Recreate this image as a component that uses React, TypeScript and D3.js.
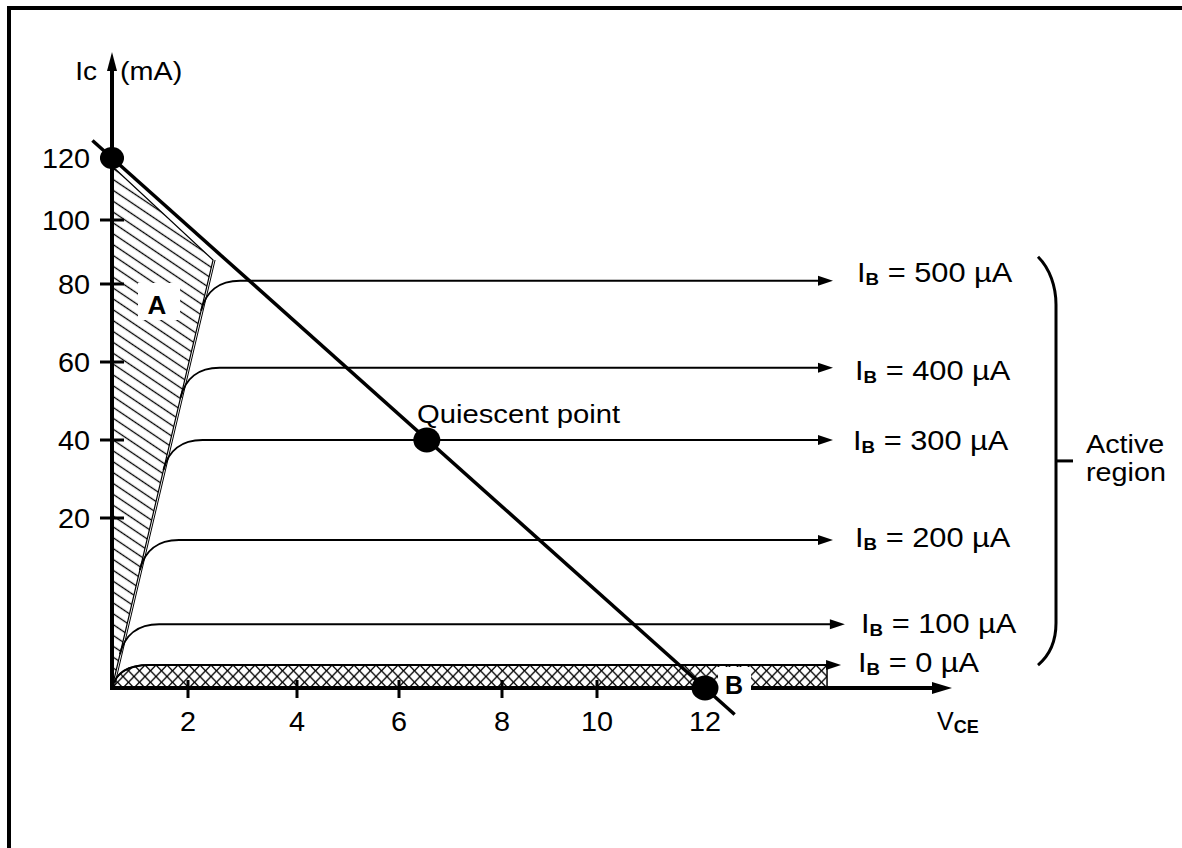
import React from 'react';
import * as d3 from 'd3';

// transistor output characteristics (schematic, non-uniform axes)
const vceTicks = [2, 4, 6, 8, 10, 12];
const icTicks = [20, 40, 60, 80, 100, 120];
const ibValues = [500, 400, 300, 200, 100, 0];
const icLevels = [81, 58.5, 40, 17.4, 7.5, 2.7];
const arrowEndVce = [14.37, 14.37, 14.37, 14.37, 14.59, 14.52];
const loadLine: [number, number][] = [[0, 120], [12, 0]];
const qPoint: [number, number] = [6.54, 40];
const satRegion: [number, number][] = [[0, 117.4], [2.46, 87.5], [0, 0]];
const satLine: [number, number][] = [[0, 0], [2.46, 87.5]];
const cutoffEndVce = 14.26;

const FONT = '"Liberation Sans", Arial, sans-serif';

const x = d3.scaleLinear()
  .domain([0, 2, 4, 6, 8, 10, 12])
  .range([112, 188, 297, 399, 502, 597, 705]);
const y = d3.scaleLinear()
  .domain([0, 20, 40, 60, 80, 100, 120])
  .range([688, 518, 440, 362, 284, 220, 158]);

// x position of the saturation boundary at a given pixel y
const satX = (py: number) => {
  const [a, b] = satLine;
  const x0 = x(a[0]), y0 = y(a[1]), x1 = x(b[0]), y1 = y(b[1]);
  return x0 + ((y0 - py) / (y0 - y1)) * (x1 - x0);
};

const kneePath = (level: number, endVce: number) => {
  const yL = y(level);
  const d = Math.min(30, y(0) - yL);
  const h = 32;
  const sx = satX(yL + d), sy = yL + d;
  const cx = satX(yL);
  const p = d3.path();
  p.moveTo(sx, sy);
  p.bezierCurveTo(sx + (cx - sx) * 0.65, sy - d * 0.65, cx + h * 0.35, yL, cx + h, yL);
  p.lineTo(x(endVce), yL);
  return p.toString();
};

const Txt = ({ px, py, fs, sx = 1, anchor = 'start', weight = 'normal', children }: any) => (
  <text
    transform={`translate(${px},${py}) scale(${sx},1)`}
    fontSize={fs}
    fontFamily={FONT}
    textAnchor={anchor}
    fontWeight={weight}
    fill="#000"
  >
    {children}
  </text>
);

export default function App() {
  const [l0, l1] = loadLine;
  const lx0 = x(l0[0]), ly0 = y(l0[1]), lx1 = x(l1[0]), ly1 = y(l1[1]);
  const ext = (t: number) => [lx0 + (lx1 - lx0) * t, ly0 + (ly1 - ly0) * t];
  const [ex0, ey0] = ext(-0.033);
  const [ex1, ey1] = ext(1.05);

  const satPoly = satRegion.map(([v, i]) => `${x(v)},${y(i)}`).join(' ');

  const lastIdx = ibValues.length - 1;
  const cutoffPath =
    kneePath(icLevels[lastIdx], cutoffEndVce) +
    `L${x(cutoffEndVce)},${y(0)}L${x(0)},${y(0)}Z`;

  const braceTop = y(icLevels[0]) - 24;
  const braceBot = y(icLevels[lastIdx]);
  const braceMid = (braceTop + braceBot) / 2;
  const bx = 1056;

  const labelDy = [-9, 2, 0, -3, -1, -3];
  const labelX = [857, 855, 853, 855, 861, 858];

  return (
    <svg width={1182} height={848} style={{ position: 'absolute', left: 0, top: 0, background: '#fff' }}>
      <defs>
        <pattern id="hatchA" patternUnits="userSpaceOnUse" width={12} height={9} patternTransform="rotate(34)">
          <line x1={0} y1={4.5} x2={12} y2={4.5} stroke="#000" strokeWidth={1.3} />
        </pattern>
        <pattern id="xhatch" patternUnits="userSpaceOnUse" x={112} y={665} width={11} height={11.5}>
          <path d="M0,0L11,11.5M11,0L0,11.5" stroke="#000" strokeWidth={1.3} />
        </pattern>
      </defs>

      {/* frame */}
      <rect x={9} y={8} width={1200} height={900} fill="none" stroke="#000" strokeWidth={4} />

      {/* saturation region A */}
      <polygon points={satPoly} fill="url(#hatchA)" stroke="#000" strokeWidth={1.2} />
      <line x1={x(satLine[0][0]) + 2} y1={y(satLine[0][1])} x2={x(satLine[1][0]) + 2} y2={y(satLine[1][1])} stroke="#000" strokeWidth={1} />
      <rect x={138} y={283} width={42} height={37} fill="#fff" />
      <Txt px={157} py={314} fs={26} anchor="middle" weight="bold">A</Txt>

      {/* cutoff region */}
      <path d={cutoffPath} fill="url(#xhatch)" stroke="#000" strokeWidth={1.5} />

      {/* characteristic curves */}
      {ibValues.map((ib, i) => {
        const yL = y(icLevels[i]);
        const tip = x(arrowEndVce[i]);
        return (
          <g key={ib}>
            <path d={kneePath(icLevels[i], arrowEndVce[i] - 0.2)} fill="none" stroke="#000" strokeWidth={2} />
            <path d={`M${tip},${yL}L${tip - 15},${yL - 5}L${tip - 15},${yL + 5}Z`} fill="#000" />
            <Txt px={labelX[i]} py={yL + labelDy[i] + 10} fs={28} sx={1.1}>
              <tspan>I</tspan>
              <tspan fontSize={17} fontWeight="bold" dy={3}>B</tspan>
              <tspan dy={-3}>{` = ${ib} µA`}</tspan>
            </Txt>
          </g>
        );
      })}

      {/* axes */}
      <line x1={x(0)} y1={y(0) + 2} x2={x(0)} y2={66} stroke="#000" strokeWidth={4} />
      <path d={`M${x(0)},52L${x(0) - 5},71L${x(0) + 5},71Z`} fill="#000" />
      <line x1={x(0) - 2} y1={y(0)} x2={935} y2={y(0)} stroke="#000" strokeWidth={4} />
      <path d={`M952,${y(0)}L932,${y(0) - 6}L932,${y(0) + 6}Z`} fill="#000" />

      {icTicks.map(t => (
        <g key={t}>
          <line x1={x(0) - 12} x2={x(0) + 12} y1={y(t)} y2={y(t)} stroke="#000" strokeWidth={3} />
          <Txt px={90} py={y(t) + 10} fs={28} sx={1.03} anchor="end">{t}</Txt>
        </g>
      ))}
      {vceTicks.map(t => (
        <g key={t}>
          <line x1={x(t)} x2={x(t)} y1={y(0) - 8} y2={y(0) + 10} stroke="#000" strokeWidth={3} />
          <Txt px={x(t)} py={731} fs={28} sx={1.03} anchor="middle">{t}</Txt>
        </g>
      ))}

      <Txt px={97} py={80} fs={25} sx={1.12} anchor="end">Ic</Txt>
      <Txt px={120} py={80} fs={25} sx={1.15}>(mA)</Txt>
      <Txt px={937} py={730} fs={25}>
        <tspan>V</tspan>
        <tspan fontSize={18} fontWeight="bold" dy={3}>CE</tspan>
      </Txt>

      {/* load line */}
      <line x1={ex0} y1={ey0} x2={ex1} y2={ey1} stroke="#000" strokeWidth={3.5} />
      <ellipse cx={lx0} cy={ly0} rx={12} ry={11} fill="#000" />
      <ellipse cx={x(qPoint[0])} cy={y(qPoint[1])} rx={13.5} ry={12.5} fill="#000" />
      <Txt px={417} py={423} fs={25} sx={1.17}>Quiescent point</Txt>

      {/* point B */}
      <rect x={718} y={667} width={33} height={26} fill="#fff" />
      <ellipse cx={lx1} cy={ly1} rx={13.5} ry={12.5} fill="#000" />
      <Txt px={734} py={694} fs={25} anchor="middle" weight="bold">B</Txt>

      {/* active region brace */}
      <path
        d={`M1038,${braceTop}C1050,${braceTop + 12} ${bx},${braceTop + 30} ${bx},${braceTop + 48}L${bx},${braceBot - 42}C${bx},${braceBot - 24} 1050,${braceBot - 10} 1038,${braceBot}`}
        fill="none"
        stroke="#000"
        strokeWidth={3}
      />
      <line x1={bx} x2={1073} y1={braceMid} y2={braceMid} stroke="#000" strokeWidth={3} />
      <Txt px={1086} py={453} fs={25} sx={1.15}>Active</Txt>
      <Txt px={1086} py={481} fs={25} sx={1.15}>region</Txt>
    </svg>
  );
}
